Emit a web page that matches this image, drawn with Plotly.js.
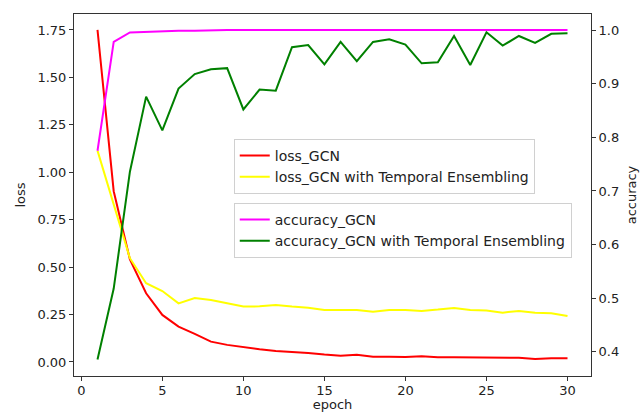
<!DOCTYPE html>
<html>
<head>
<meta charset="utf-8">
<script src="https://cdn.plot.ly/plotly-3.0.1.min.js"></script>
<style>html,body{margin:0;padding:0;background:#fff;}#chart{width:643px;height:412px;}</style>
</head>
<body>
<div id="chart"></div>
<script>
const epochs = [1,2,3,4,5,6,7,8,9,10,11,12,13,14,15,16,17,18,19,20,21,22,23,24,25,26,27,28,29,30];
const lossGCN = [1.75,0.90,0.54,0.362,0.248,0.186,0.148,0.107,0.090,0.077,0.067,0.058,0.053,0.047,0.039,0.033,0.038,0.028,0.028,0.026,0.030,0.025,0.025,0.025,0.023,0.022,0.022,0.015,0.020,0.020];
const lossTE = [1.114,0.83,0.547,0.415,0.374,0.309,0.337,0.327,0.309,0.292,0.293,0.300,0.292,0.286,0.274,0.274,0.274,0.265,0.274,0.274,0.269,0.276,0.285,0.274,0.271,0.260,0.269,0.260,0.257,0.242];
const accGCN = [0.775,0.978,0.9957,0.997,0.998,0.999,0.999,1.0,1.0,1.0,1.0,0.9995,1.0,1.0,1.0,1.0,1.0,1.0,1.0,1.0,1.0,1.0,1.0,1.0,1.0,1.0,1.0,1.0,1.0,1.0];
const accTE = [0.3857,0.518,0.736,0.876,0.813,0.891,0.918,0.927,0.929,0.852,0.889,0.887,0.968,0.972,0.936,0.978,0.942,0.978,0.983,0.973,0.938,0.940,0.989,0.935,0.996,0.971,0.989,0.976,0.993,0.994];

const FONT = "DejaVu Sans, sans-serif";
const traces = [
  {x: epochs, y: lossGCN, name: "loss_GCN", mode: "lines", line: {color: "#ff0000", width: 2}, legend: "legend", yaxis: "y"},
  {x: epochs, y: lossTE, name: "loss_GCN with Temporal Ensembling", mode: "lines", line: {color: "#ffff00", width: 2}, legend: "legend", yaxis: "y"},
  {x: epochs, y: accGCN, name: "accuracy_GCN", mode: "lines", line: {color: "#ff00ff", width: 2}, legend: "legend2", yaxis: "y2"},
  {x: epochs, y: accTE, name: "accuracy_GCN with Temporal Ensembling", mode: "lines", line: {color: "#008000", width: 2}, legend: "legend2", yaxis: "y2"}
];

const legendBase = {
  xanchor: "left", yanchor: "top", bgcolor: "rgba(255,255,255,0.85)",
  bordercolor: "#d0d0d0", borderwidth: 1, font: {family: FONT, size: 14, color: "#222"},
  tracegroupgap: 0, itemwidth: 30
};

const layout = {
  width: 643, height: 412,
  margin: {l: 74, r: 52, t: 14, b: 36},
  paper_bgcolor: "#fff", plot_bgcolor: "#fff",
  font: {family: FONT, size: 13, color: "#222"},
  showlegend: true,
  xaxis: {
    range: [-0.45, 31.45], tickvals: [0,5,10,15,20,25,30], ticks: "outside", ticklen: 4, tickcolor: "#333",
    ticklabelstandoff: -2,
    showline: true, linecolor: "#333", linewidth: 1, mirror: true, showgrid: false, zeroline: false,
    title: {text: "epoch", font: {family: FONT, size: 13}, standoff: 6},
    tickfont: {family: FONT, size: 13}
  },
  yaxis: {
    range: [-0.074, 1.834], tickvals: [0,0.25,0.5,0.75,1.0,1.25,1.5,1.75],
    ticktext: ["0.00","0.25","0.50","0.75","1.00","1.25","1.50","1.75"],
    ticks: "outside", ticklen: 4, tickcolor: "#333",
    showline: true, linecolor: "#333", linewidth: 1, mirror: true, showgrid: false, zeroline: false,
    title: {text: "loss", font: {family: FONT, size: 13}, standoff: 8},
    tickfont: {family: FONT, size: 13}
  },
  yaxis2: {
    overlaying: "y", side: "right", range: [0.355, 1.030],
    tickvals: [0.4,0.5,0.6,0.7,0.8,0.9,1.0], ticktext: ["0.4","0.5","0.6","0.7","0.8","0.9","1.0"],
    ticks: "outside", ticklen: 4, tickcolor: "#333",
    showline: true, linecolor: "#333", linewidth: 1, showgrid: false, zeroline: false,
    title: {text: "accuracy", font: {family: FONT, size: 13}, standoff: 8},
    tickfont: {family: FONT, size: 13}
  },
  legend: Object.assign({}, legendBase, {x: 0.309, y: 0.655}),
  legend2: Object.assign({}, legendBase, {x: 0.309, y: 0.478})
};

Plotly.newPlot("chart", traces, layout, {displayModeBar: false, staticPlot: true});
</script>
</body>
</html>
